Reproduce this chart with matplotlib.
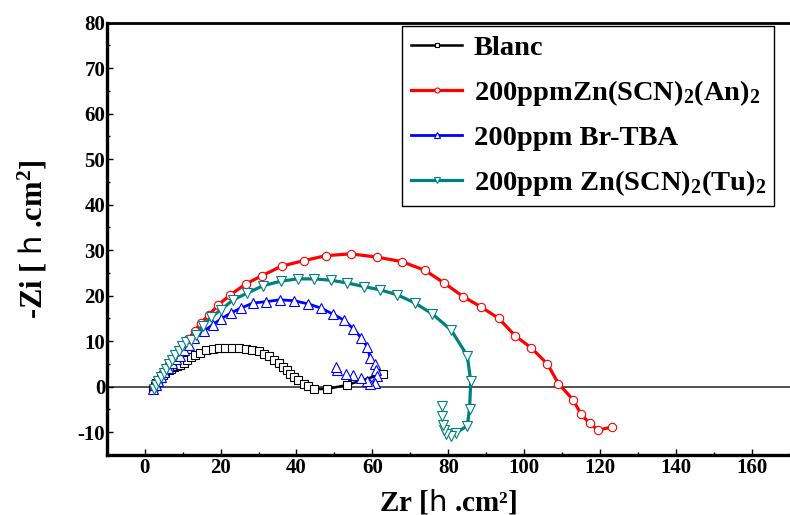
import matplotlib
matplotlib.use("Agg")
import matplotlib.pyplot as plt
from matplotlib.ticker import MultipleLocator

plt.rcParams["font.family"] = ["Liberation Serif", "DejaVu Sans"]
plt.rcParams["font.weight"] = "bold"
plt.rcParams["axes.unicode_minus"] = False
plt.rcParams["mathtext.fontset"] = "custom"
plt.rcParams["mathtext.rm"] = "Liberation Serif:bold"
plt.rcParams["mathtext.it"] = "Liberation Serif:bold"
plt.rcParams["mathtext.bf"] = "Liberation Serif:bold"
plt.rcParams["mathtext.sf"] = "DejaVu Sans:weight=normal"

# Blanc
blanc_x = [2.3, 2.7, 3.1, 3.6, 4.2, 4.8, 5.5, 6.3, 7.0, 7.8, 8.6, 9.4, 10.3, 11.2,
           12.2, 13.3, 14.7, 16.2, 17.9, 19.7, 21.2, 23.0, 24.9, 26.7, 28.4, 30.2,
           31.5, 32.8, 34.1, 35.4, 36.5, 37.4, 38.3, 39.4, 40.4, 41.9, 43.1, 44.7,
           48.0, 53.4, 62.9]
blanc_y = [-0.4, 0.2, 0.8, 1.4, 2.0, 2.6, 3.1, 3.6, 4.0, 4.3, 4.5, 4.8, 5.3, 5.9,
           6.5, 7.0, 7.5, 8.0, 8.3, 8.5, 8.6, 8.6, 8.5, 8.4, 8.1, 7.8,
           7.3, 6.7, 5.9, 5.2, 4.3, 3.6, 2.9, 2.1, 1.4, 0.7, 0.1, -0.5,
           -0.5, 0.4, 2.9]

# 200ppm Zn(SCN)2(An)2
an_x = [2.6, 3.4, 4.8, 6.1, 7.4, 8.7, 10.0, 11.5, 13.3, 14.8, 17.0, 19.4, 22.6,
        26.7, 30.9, 36.1, 41.9, 47.7, 54.3, 61.1, 67.7, 73.8, 78.9, 83.9, 88.5,
        93.3, 97.6, 101.9, 106.1, 109.0, 112.9, 115.0, 117.2, 119.4, 123.0]
an_y = [-0.3, 1.2, 3.0, 4.5, 5.9, 7.4, 9.0, 10.5, 12.3, 14.0, 15.8, 18.0, 20.2,
        22.6, 24.4, 26.5, 27.7, 28.8, 29.2, 28.5, 27.5, 25.6, 22.8, 19.8, 17.6,
        15.0, 11.2, 8.5, 5.0, 0.7, -2.9, -6.1, -8.0, -9.5, -8.9]

# 200ppm Br-TBA
tba_x = [2.2, 2.9, 3.6, 4.4, 5.2, 6.1, 7.1, 8.2, 9.3, 10.4, 11.8, 13.1, 15.7,
         17.9, 20.1, 22.7, 25.4, 28.6, 32.1, 35.6, 39.4, 43.1, 46.4, 49.5, 52.6,
         55.0, 57.1, 58.7, 59.4, 60.6, 60.9, 61.3, 60.6]
tba_y = [-0.6, 0.3, 1.2, 2.2, 3.2, 4.2, 5.2, 6.0, 6.8, 8.1, 9.2, 10.7, 12.3,
         13.6, 14.9, 16.2, 17.3, 18.4, 18.7, 19.1, 18.9, 18.2, 17.3, 16.0, 14.6,
         12.7, 10.7, 8.7, 6.4, 5.0, 3.7, 2.4, 0.8]
tba_tail_x = [59.3, 58.5, 56.9, 54.8, 53.0, 50.6, 50.4]
tba_tail_y = [0.6, 1.2, 2.0, 2.5, 2.9, 3.6, 4.3]

# 200ppm Zn(SCN)2(Tu)2
tu_x = [2.4, 3.0, 3.6, 4.3, 5.0, 5.7, 6.5, 7.3, 8.1, 9.0, 9.9, 10.9, 12.2, 13.5,
        15.3, 17.5, 20.1, 23.3, 27.1, 31.2, 35.9, 40.3, 44.7, 49.1, 53.4, 57.8,
        62.0, 66.6, 71.2, 75.8, 80.8, 85.0, 85.9, 85.6, 85.0, 81.9]
tu_y = [-0.5, 0.4, 1.2, 2.1, 3.0, 3.9, 4.9, 5.9, 6.9, 7.9, 8.9, 9.9, 10.2, 11.4,
        13.3, 15.3, 16.9, 19.1, 20.6, 22.2, 23.2, 23.7, 23.7, 23.4, 22.8, 22.0,
        21.3, 20.2, 18.4, 16.0, 12.4, 6.8, 1.2, -4.8, -8.6, -10.2]
tu_tail_x = [80.8, 79.5, 78.9, 78.6, 78.4, 78.4]
tu_tail_y = [-10.9, -10.3, -9.5, -8.4, -6.5, -4.3]

labels = ["Blanc", "200ppmZn(SCN)$_2$(An)$_2$", "200ppm Br-TBA",
          "200ppm Zn(SCN)$_2$(Tu)$_2$"]

fig = plt.figure(figsize=(7.9, 5.15), dpi=100)
ax = fig.add_axes([0.135, 0.1165, 0.865, 0.8395])

ax.axhline(0, color="#222222", lw=1.1, zorder=1)

ax.plot(blanc_x, blanc_y, color="black", lw=1.8, marker="s", ms=5.5, mfc="white",
        mec="black", mew=0.8, label=labels[0])
ax.plot(an_x, an_y, color="#ff0000", lw=2.3, marker="o", ms=6, mfc="white",
        mec="#ff0000", mew=0.8, label=labels[1])
ax.plot(tba_x, tba_y, color="#0000ff", lw=2.0, marker="^", ms=6.5, mfc="white",
        mec="#0000ff", mew=0.8, label=labels[2])
ax.plot(tba_tail_x, tba_tail_y, ls="none", marker="^", ms=6.5, mfc="white",
        mec="#0000ff", mew=0.8)
ax.plot(tu_x, tu_y, color="#008080", lw=2.3, marker="v", ms=6.5, mfc="white",
        mec="#008080", mew=0.8, label=labels[3])
ax.plot(tu_tail_x, tu_tail_y, ls="none", marker="v", ms=6.5, mfc="white",
        mec="#008080", mew=0.8)

ax.set_xlim(-10, 170)
ax.set_ylim(-15, 80)
ax.xaxis.set_minor_locator(MultipleLocator(10))
ax.yaxis.set_major_locator(MultipleLocator(10))
ax.yaxis.set_minor_locator(MultipleLocator(5))
ax.set_xticks(range(0, 161, 20))
ax.tick_params(which="both", direction="in", labelsize=15, pad=2, width=1)
ax.tick_params(which="major", length=4)
ax.tick_params(which="minor", length=2.5)
ax.tick_params(axis="y", pad=1)
for t in ax.get_xticklabels() + ax.get_yticklabels():
    t.set_fontweight("bold")

ax.spines["left"].set_linewidth(2.4)
ax.spines["bottom"].set_linewidth(2.4)
ax.spines["top"].set_linewidth(2.0)
ax.spines["right"].set_visible(False)

ax.set_xlabel("Zr [$\\mathsf{\u0570}$ .cm\u00b2]", fontsize=21, fontweight="bold",
              labelpad=6)
ax.set_ylabel("-Zi [ $\\mathsf{\u0570}$ .cm$^2$]", fontsize=22, fontweight="bold",
              labelpad=20)

leg = ax.legend(loc="upper right", bbox_to_anchor=(0.977, 0.992), borderaxespad=0,
                fancybox=False, framealpha=1, edgecolor="black",
                handlelength=1.8, handletextpad=0.4, labelspacing=0.6,
                borderpad=0.3, markerscale=0.6,
                prop={"family": ["Liberation Serif"], "weight": "bold", "size": 20.5})
leg.get_frame().set_linewidth(1.0)

fig.savefig("out.png", dpi=100)
